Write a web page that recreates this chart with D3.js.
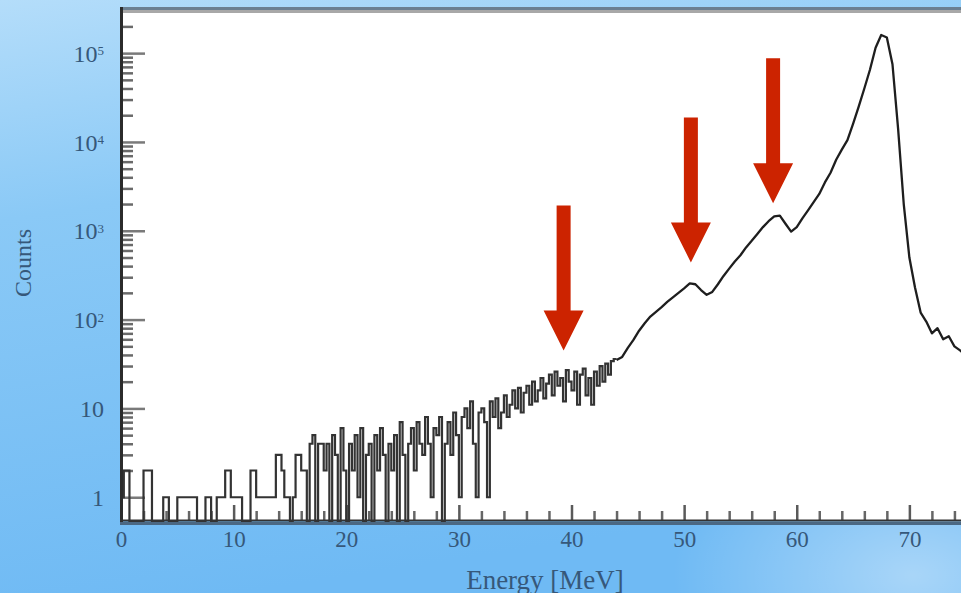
<!DOCTYPE html>
<html>
<head>
<meta charset="utf-8">
<script src="https://cdn.jsdelivr.net/npm/d3@7"></script>
<style>
  body { margin: 0; padding: 0; overflow: hidden; }
  svg { display: block; }
</style>
</head>
<body>
<script>
// low energy part of the spectrum, 0.25 MeV bins from 0 MeV (drawn as histogram)
var lowBin = 0.25;
var lowCounts = [
  1, 2, 2, 0,   0, 0, 0, 0,   2, 2, 2, 0,   0, 0, 0, 1,     // 0 - 4
  1, 0, 0, 0,   1, 1, 1, 1,   1, 1, 1, 0,   0, 0, 1, 1,     // 4 - 8
  0, 0, 1, 1,   1, 2, 2, 1,   1, 1, 1, 0,   0, 0, 2, 2,     // 8 - 12
  1, 1, 1, 1,   1, 1, 1, 3,   3, 2, 1, 1,   0, 1, 3, 3,     // 12 - 16
  2, 2, 0, 4,   5, 0, 4, 4,   2, 4, 0, 5,   3, 0, 6, 2,     // 16 - 20
  0, 4, 2, 5,   1, 6, 0, 3,   4, 0, 5, 2,   6, 3, 0, 4,     // 20 - 24
  2, 5, 0, 7,   3, 0, 4, 6,   2, 7, 4, 3,   8, 4, 1, 6,     // 24 - 28
  5, 8, 0, 4,   7, 3, 9, 5,   1, 8, 10, 6,  12, 4, 1, 9,    // 28 - 32
  10, 7, 1, 12, 8, 13, 6, 9,  14, 8, 11, 16, 10, 17, 9, 15,   // 32 - 36
  18, 11, 20, 12, 16, 22, 13, 19, 24, 14, 26, 18, 22, 12, 27, 20, // 36 - 40
  16, 26, 11, 24, 28, 14, 22, 11, 26, 18, 30, 20, 32, 24, 34, 36  // 40 - 44
];

// high energy part, 0.5 MeV steps from 44 MeV (drawn as a line)
var highStart = 44;
var highBin = 0.5;
var highCounts = [
  35, 38,                                                    // 44 - 44.5
  48, 59, 75, 91, 108, 122, 138, 158, 178, 200,             // 45 - 49.5
  225, 255, 250, 215, 190, 205, 250, 310, 375, 450,         // 50 - 54.5
  530, 650, 770, 920, 1100, 1280, 1450, 1480, 1200, 980,    // 55 - 59.5
  1100, 1380, 1700, 2100, 2600, 3500, 4500, 6300, 8200, 10500,          // 60 - 64.5
  16000, 25000, 40000, 65000, 115000, 160000, 150000, 75000, 14000, 2000, // 65 - 69.5
  500, 230, 120, 95, 70, 80, 60, 65, 50, 45,                // 70 - 74.5
  40
];

// arrows: energy they point at and the counts level of the tip
var arrowEnergy = [39.3, 50.6, 57.9];
var arrowCounts = [45, 440, 2040];

var xMajor = [0, 10, 20, 30, 40, 50, 60, 70];
var xMinor = [2, 4, 6, 8, 12, 14, 16, 18, 22, 24, 26, 28, 32, 34, 36, 38, 42, 44, 46, 48, 52, 54, 56, 58, 62, 64, 66, 68, 72, 74, 76, 78];
var yMajor = [1, 10, 100, 1000, 10000, 100000];
var yMinor = [2, 3, 4, 5, 6, 7, 8, 9,
  20, 30, 40, 50, 60, 70, 80, 90,
  200, 300, 400, 500, 600, 700, 800, 900,
  2000, 3000, 4000, 5000, 6000, 7000, 8000, 9000,
  20000, 30000, 40000, 50000, 60000, 70000, 80000, 90000,
  200000];
var yLabels = [["1", ""], ["10", ""], ["10", "2"], ["10", "3"], ["10", "4"], ["10", "5"]];

var width = 961, height = 593;
var serif = '"Liberation Serif", "Times New Roman", serif';
var labelColor = '#36587a';

var svg = d3.select('body').append('svg').attr('width', width).attr('height', height);

// background
var defs = svg.append('defs');
var bg = defs.append('linearGradient').attr('id', 'bg').attr('x1', 0).attr('y1', 0).attr('x2', 0.25).attr('y2', 1);
bg.append('stop').attr('offset', '0%').attr('stop-color', '#b4ddfa');
bg.append('stop').attr('offset', '35%').attr('stop-color', '#8ac9f6');
bg.append('stop').attr('offset', '100%').attr('stop-color', '#6fbaf4');
var glow = defs.append('radialGradient').attr('id', 'glow').attr('cx', 0.95).attr('cy', 0.97).attr('r', 0.25);
glow.append('stop').attr('offset', '0%').attr('stop-color', '#ffffff').attr('stop-opacity', 0.4);
glow.append('stop').attr('offset', '100%').attr('stop-color', '#ffffff').attr('stop-opacity', 0);

svg.append('rect').attr('width', width).attr('height', height).attr('fill', 'url(#bg)');
svg.append('rect').attr('width', width).attr('height', height).attr('fill', 'url(#glow)');

var x = d3.scaleLinear().domain([0, 80]).range([121, 1022]);
var y = d3.scaleLog().domain([0.54, 283000]).range([521, 13]);

// plot area
svg.append('rect')
  .attr('x', x(0)).attr('y', y.range()[1])
  .attr('width', x(80) - x(0)).attr('height', y.range()[0] - y.range()[1])
  .attr('fill', '#ffffff');

// ticks point inwards
var tickStyle = function(g, color) {
  g.select('.domain').remove();
  g.selectAll('.tick line').attr('stroke', color).attr('stroke-width', 2.5);
};

svg.append('g').attr('transform', 'translate(' + x(0) + ',0)')
  .call(d3.axisLeft(y).tickValues(yMinor).tickSize(-12).tickFormat(''))
  .call(tickStyle, '#6a6a6a');

var yAxis = svg.append('g').attr('transform', 'translate(' + x(0) + ',0)')
  .call(d3.axisLeft(y).tickValues(yMajor).tickSize(-24).tickPadding(17).tickFormat(''))
  .call(tickStyle, '#7a7a7a');

yAxis.selectAll('.tick').each(function(d, i) {
  var t = d3.select(this).select('text')
    .attr('font-family', serif)
    .attr('font-size', 24).attr('fill', labelColor).attr('text-anchor', 'end')
    .attr('dy', '0.34em');
  t.append('tspan').text(yLabels[i][0]);
  if (yLabels[i][1]) {
    t.append('tspan').attr('dy', '-0.5em').attr('font-size', 13).text(yLabels[i][1]);
  }
});

svg.append('g').attr('transform', 'translate(0,' + y.range()[0] + ')')
  .call(d3.axisBottom(x).tickValues(xMinor).tickSize(-10).tickFormat(''))
  .call(tickStyle, '#666666');

svg.append('g').attr('transform', 'translate(0,' + y.range()[0] + ')')
  .call(d3.axisBottom(x).tickValues(xMajor).tickSize(-16).tickPadding(10).tickFormat(d3.format('d')))
  .call(tickStyle, '#5a5a5a')
  .selectAll('text')
  .attr('font-family', serif)
  .attr('font-size', 23).attr('fill', labelColor);

// spectrum
var lowPoints = lowCounts.map(function(c, i) { return { e: i * lowBin, c: c }; });
// close the last bin so the step reaches the line part
lowPoints.push({ e: highStart, c: lowCounts[lowCounts.length - 1] });
var highPoints = highCounts.map(function(c, i) { return { e: highStart + i * highBin, c: c }; });

var yOf = function(c) { return y(Math.max(c, y.domain()[0])); };

var hist = d3.line()
  .x(function(d){ return x(d.e); })
  .y(function(d){ return yOf(d.c); })
  .curve(d3.curveStepAfter);

var smooth = d3.line()
  .x(function(d){ return x(d.e); })
  .y(function(d){ return yOf(d.c); });

svg.append('path')
  .datum(lowPoints)
  .attr('d', hist)
  .attr('fill', 'none').attr('stroke', '#333333').attr('stroke-width', 2.2);

svg.append('path')
  .datum(highPoints)
  .attr('d', smooth)
  .attr('fill', 'none').attr('stroke', '#1e1e1e').attr('stroke-width', 2.3)
  .attr('stroke-linejoin', 'round');

// frame
svg.append('line').attr('x1', x(0)).attr('x2', width).attr('y1', 8.5).attr('y2', 8.5)
  .attr('stroke', '#6b7f91').attr('stroke-width', 3);
svg.append('line').attr('x1', x(0)).attr('x2', width).attr('y1', 11.5).attr('y2', 11.5)
  .attr('stroke', '#a8a8a8').attr('stroke-width', 3);
svg.append('line').attr('x1', x(0) + 0.5).attr('x2', x(0) + 0.5).attr('y1', 7).attr('y2', 523)
  .attr('stroke', '#2b2b2b').attr('stroke-width', 3);
svg.append('line').attr('x1', x(0) - 1).attr('x2', width).attr('y1', 520.5).attr('y2', 520.5)
  .attr('stroke', '#333333').attr('stroke-width', 2);
svg.append('line').attr('x1', x(0) - 1).attr('x2', width).attr('y1', 523.5).attr('y2', 523.5)
  .attr('stroke', '#4b6883').attr('stroke-width', 3);

// axis titles
svg.append('text')
  .attr('x', 545).attr('y', 589)
  .attr('text-anchor', 'middle')
  .attr('font-family', serif)
  .attr('font-size', 27).attr('fill', labelColor)
  .text('Energy [MeV]');

svg.append('text')
  .attr('transform', 'translate(31,263) rotate(-90)')
  .attr('text-anchor', 'middle')
  .attr('font-family', serif)
  .attr('font-size', 24).attr('fill', labelColor)
  .text('Counts');

// red arrows
var arrowLength = 145, shaft = 7, head = 20, headLength = 40;
arrowEnergy.forEach(function(e, i) {
  var tx = x(e), ty = y(arrowCounts[i]);
  var pts = [
    [tx, ty],
    [tx - head, ty - headLength],
    [tx - shaft, ty - headLength],
    [tx - shaft, ty - arrowLength],
    [tx + shaft, ty - arrowLength],
    [tx + shaft, ty - headLength],
    [tx + head, ty - headLength]
  ];
  svg.append('polygon')
    .attr('points', pts.map(function(p){ return p.join(','); }).join(' '))
    .attr('fill', '#cc2300');
});
</script>
</body>
</html>
